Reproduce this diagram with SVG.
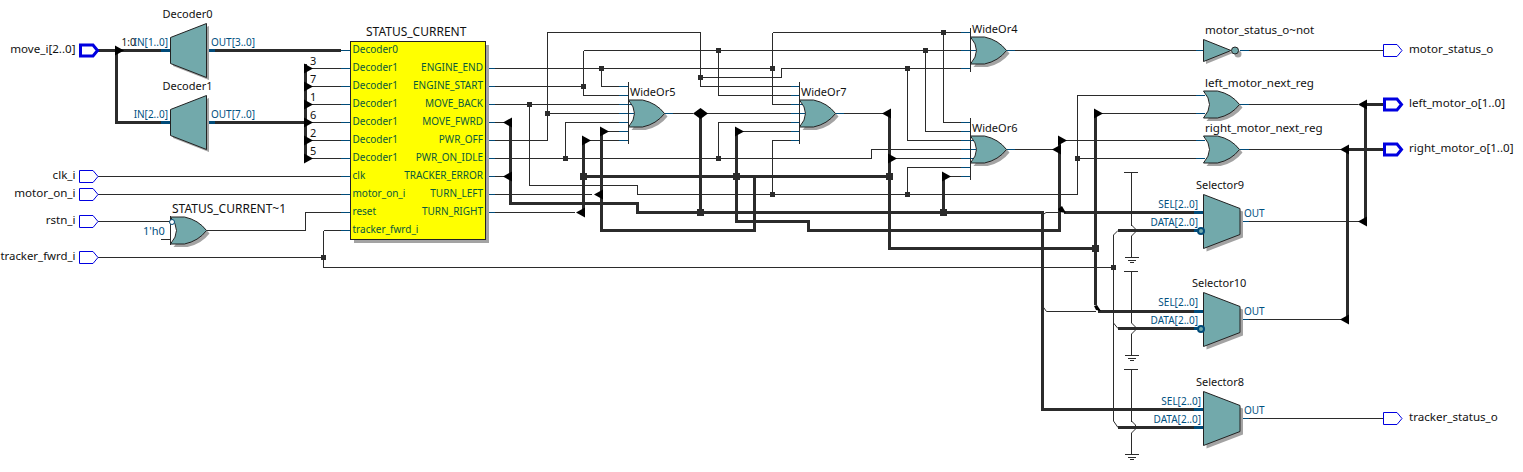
<svg xmlns="http://www.w3.org/2000/svg" width="1523" height="472" viewBox="0 0 1523 472">
<style>
text{font-family:"Noto Sans","DejaVu Sans",sans-serif;font-size:11px;fill:#111}
.n{font-size:11.6px}
.c{font-size:12px}
.l{fill:#00507f;font-size:10px}
.e{text-anchor:end}
.k{fill:#0a5a3c;font-size:10px}
.t,.b,.s,.sb{fill:none;stroke-linejoin:miter}
.t{stroke:#2b2b2b;stroke-width:1;shape-rendering:crispEdges}
.b{stroke:#2b2b2b;stroke-width:3;shape-rendering:crispEdges}
.s{stroke:#004a78;stroke-width:1;shape-rendering:crispEdges}
.sb{stroke:#004a78;stroke-width:3;shape-rendering:crispEdges}
.d{stroke:#2b2b2b;stroke-width:1;fill:none}
.g{fill:#72a9ab;stroke:#222;stroke-width:1}
.sh{fill:#a3a3a3}
.p{fill:#fff;stroke:#0000e0;stroke-width:1}
.pb{fill:#fff;stroke:#0000e0;stroke-width:3}
.a{fill:#000}
.j{fill:#2b2b2b}
</style>
<defs>
<polygon id="ar" class="a" points="0,-5 9,0 0,5"/>
<polygon id="al" class="a" points="0,-5 -9,0 0,5"/>
<rect id="jn" class="j" x="-2.5" y="-2.5" width="5" height="5"/>
<rect id="jb" class="j" x="-3.5" y="-3.5" width="7" height="7"/>
<path id="orsh" class="sh" d="M0 0H14Q28 3 36 13.500Q28 24 14 27H0Q6 20 6 13.500Q6 7 0 0Z"/>
<path id="orb" class="g" d="M0 0H14Q28 3 36 13.500Q28 24 14 27H0Q6 20 6 13.500Q6 7 0 0Z"/>
<path id="gnd" class="t" d="M-7 0H7M-4 2.500H4M-2 5H2"/>
</defs>
<g id="connectors">
<path class="b" d="M98 50.500H341M116.500 50.500V122.500H161M215 50.500H341M215 122.500H305.500M305.500 64V162"/>
<path class="t" d="M98 176.500H350M98 194.500H350M98 221.500H170M98 257.500H323.500M323.500 230.500V267.500H1113.500M323.500 230.500H350M206 230.500H305.500V212.500H350M306 68.500H350M306 86.500H350M306 104.500H350M306 122.500H350M306 140.500H350M306 158.500H350M161 239.500H170"/>
<path class="t" d="M486 68.500H772.500M486 86.500H583.500M486 104.500H628M486 122.500H505M486 140.500H547.500V32.500H700.500V86.500H800M486 158.500H871.500V149.500H970M486 176.500H505M486 194.500H592M486 212.500H575"/>
<path class="t" d="M547.500 113.500H628M601.500 68.500V86.500H628M583.500 50.500H970M583.500 50.500V95.500H628M718.500 50.500V95.500H800M700.500 77.500H781.500V68.500H970M772.500 32.500H970M772.500 32.500V104.500H800M529.500 104.500V185.500H637.500V194.500H1077.500V95.500H1205M565.500 158.500V122.500H628M718.500 158.500V122.500H800M664 113.500H693M707 113.500H800M583.500 140.500H628M601.500 131.500H628M736.500 131.500H800"/>
<path class="t" d="M943.500 32.500V122.500H970M925.500 50.500V131.500H970M907.500 68.500V140.500H970M907.500 194.500V167.500H970M889.500 158.500H970M943.500 176.500H970M772.500 194.500V140.500H800M835 113.500H883M1006 149.500H1054M1006 50.500H1205M1240 50.500H1383M1059.500 140.500H1205M1077.500 158.500H1205M1095.500 113.500H1205M1240 104.500H1358M1240 149.500H1342M1240 221.500H1360M1240 319.500H1342M1240 418.500H1383"/>
<path class="b" d="M510.500 122V203.500H637.500V212.500H1042.500V409.500H1204M583.500 140V212M583.500 176.500H889.500M601.500 131V230.500H754.500V176.500M700.500 113.500V212.500M736.500 131V221.500H808.500V230.500H1059.500V140M889.500 113V248.500H1095.500V305M943.500 176V212.500M1095.500 113V248M1064 212.500H1204M1098 311.500H1204M1118 230.500H1196M1118 328.500H1196M1118 427.500H1204M1347.500 149.500V322M1365.500 104V225M1365 104.500H1383M1347 149.500H1383"/>
<path class="d" d="M1042.500 215L1046 212.500H1060M1042.500 306L1046.500 311.500H1096M1113.500 235V421L1118 427.500M1113.500 235L1118 230.500M1113.500 323L1118 328.500"/>
<path class="t" d="M1124 172.500H1138M1131.500 172.500V226M1124 271.500H1138M1131.500 271.500V323M1124 369.500H1138M1131.500 369.500V422"/>
<path class="d" d="M1131.500 225L1135.500 229V232L1131.500 236M1131.500 323L1135.500 327V330L1131.500 334M1131.500 421L1135.500 425V429L1131.500 433"/>
<path class="t" d="M1131.500 236V258M1131.500 334V356M1131.500 433V455"/>
<use href="#gnd" x="1131.500" y="257.500"/><use href="#gnd" x="1131.500" y="355.500"/><use href="#gnd" x="1131.500" y="454.500"/>
<path class="sb" d="M161 50.500H170M206 50.500H215M161 122.500H170M206 122.500H215M1194 212.500H1204M1194 230.500H1198M1194 311.500H1204M1194 328.500H1198M1194 409.500H1204M1194 427.500H1204"/>
<path class="s" d="M341 50.500H350M341 68.500H350M341 86.500H350M341 104.500H350M341 122.500H350M341 140.500H350M341 158.500H350M341 176.500H350M341 194.500H350M341 212.500H350M341 230.500H350M486 68.500H495M486 86.500H495M486 104.500H495M486 122.500H495M486 140.500H495M486 158.500H495M486 176.500H495M486 194.500H495M486 212.500H495"/>
<path class="s" d="M619 86.500H628M619 95.500H628M619 104.500H634M619 113.500H634M619 122.500H628M619 131.500H628M619 140.500H628M791 86.500H800M791 95.500H800M791 104.500H805M791 113.500H805M791 122.500H800M791 131.500H800M791 140.500H800M961 32.500H970M961 50.500H976M961 68.500H970M961 122.500H970M961 131.500H970M961 140.500H976M961 149.500H976M961 158.500H976M961 167.500H970M961 176.500H970M664 113.500H673M835 113.500H844M1006 50.500H1015M1006 149.500H1015M1196 95.500H1205M1196 113.500H1205M1196 140.500H1205M1196 158.500H1205M1240 104.500H1249M1240 149.500H1249M1240 50.500H1249M1240 221.500H1249M1240 319.500H1249M1240 418.500H1249M1196 50.500H1205"/>
<path class="t" d="M628.500 82V143.500M799.500 82V143.500M970.500 28V72M970.500 118V180M170.500 216V245"/>
<use href="#ar" x="115" y="50.500"/>
<use href="#ar" x="304" y="68.500"/><use href="#ar" x="304" y="86.500"/><use href="#ar" x="304" y="104.500"/><use href="#ar" x="304" y="122.500"/><use href="#ar" x="304" y="140.500"/><use href="#ar" x="304" y="158.500"/>
<use href="#al" x="512" y="122.500"/><use href="#al" x="512" y="176.500"/><use href="#al" x="603" y="194.500"/><use href="#al" x="585" y="212.500"/>
<use href="#ar" x="582" y="140.500"/><use href="#ar" x="600" y="131.500"/><use href="#ar" x="735" y="131.500"/><use href="#al" x="891" y="113.500"/><use href="#ar" x="888" y="158.500"/><use href="#ar" x="942" y="176.500"/><use href="#al" x="1061" y="149.500"/><use href="#ar" x="1058" y="140.500"/><use href="#ar" x="1094" y="113.500"/>
<use href="#al" x="1367" y="104.500"/><use href="#al" x="1349" y="149.500"/><use href="#al" x="1367" y="221.500"/><use href="#al" x="1349" y="319.500"/>
<polygon class="a" points="693,113.500 700.500,108 708,113.500 700.500,119"/>
<polygon class="a" points="1058,209 1062,206 1066,213 1060,212"/>
<polygon class="a" points="1094,306 1097,305 1101,311 1096,310"/>
<use href="#jn" x="601.500" y="68.500"/><use href="#jn" x="583.500" y="86.500"/><use href="#jn" x="718.500" y="50.500"/><use href="#jn" x="772.500" y="68.500"/><use href="#jn" x="700.500" y="77.500"/><use href="#jn" x="529.500" y="104.500"/><use href="#jn" x="547.500" y="113.500"/><use href="#jn" x="565.500" y="158.500"/><use href="#jn" x="718.500" y="158.500"/><use href="#jn" x="772.500" y="194.500"/><use href="#jn" x="907.500" y="194.500"/><use href="#jn" x="943.500" y="32.500"/><use href="#jn" x="925.500" y="50.500"/><use href="#jn" x="907.500" y="68.500"/><use href="#jn" x="1077.500" y="158.500"/><use href="#jn" x="323.500" y="257.500"/><use href="#jn" x="1113.500" y="267.500"/>
<use href="#jb" x="583.500" y="176.500"/><use href="#jb" x="736.500" y="176.500"/><use href="#jb" x="889.500" y="176.500"/><use href="#jb" x="700.500" y="212.500"/><use href="#jb" x="943.500" y="212.500"/><use href="#jb" x="1095.500" y="248.500"/>
</g>
<g id="move_i"><polygon class="pb" points="80.500,45 93,45 97.500,50.500 93,56 80.500,56"/><text class="n e" x="75.500" y="53">move_i[2..0]</text></g>
<g id="clk_i"><polygon class="p" points="79.500,170.500 93,170.500 98,176.500 93,182.500 79.500,182.500"/><text class="n e" x="75.500" y="179">clk_i</text></g>
<g id="motor_on_i"><polygon class="p" points="79.500,188.500 93,188.500 98,194.500 93,200.500 79.500,200.500"/><text class="n e" x="75.500" y="197">motor_on_i</text></g>
<g id="rstn_i"><polygon class="p" points="79.500,215.500 93,215.500 98,221.500 93,227.500 79.500,227.500"/><text class="n e" x="75.500" y="224">rstn_i</text></g>
<g id="tracker_fwrd_i"><polygon class="p" points="79.500,251.500 93,251.500 98,257.500 93,263.500 79.500,263.500"/><text class="e" x="75.500" y="260" style="font-size:11.4px">tracker_fwrd_i</text></g>
<g id="Decoder0"><polygon class="sh" points="173,40 209,26 209,80 173,66"/><polygon class="g" points="170.500,37.500 206.500,23.500 206.500,77.500 170.500,63.500"/><text x="162.500" y="18">Decoder0</text><text x="121.500" y="46" class="l" style="fill:#111">1:0</text><text class="l e" x="168" y="46">IN[1..0]</text><text class="l" x="211" y="46">OUT[3..0]</text></g>
<g id="Decoder1"><polygon class="sh" points="173,112 209,98 209,152 173,138"/><polygon class="g" points="170.500,109.500 206.500,95.500 206.500,149.500 170.500,135.500"/><text x="162.500" y="90">Decoder1</text><text class="l e" x="168" y="118">IN[2..0]</text><text class="l" x="211" y="118">OUT[7..0]</text></g>
<g id="bus_labels"><text x="310" y="64.500">3</text><text x="310" y="82.500">7</text><text x="310" y="100.500">1</text><text x="310" y="118.500">6</text><text x="310" y="136.500">2</text><text x="310" y="154.500">5</text></g>
<g id="STATUS_CURRENT"><rect class="sh" x="354" y="45" width="135" height="198"/><rect x="350.500" y="41.500" width="135" height="198" fill="#ff0" stroke="#222"/><text class="c" x="366" y="36">STATUS_CURRENT</text>
<text class="k" x="352.500" y="52.500">Decoder0</text><text class="k" x="352.500" y="70.500">Decoder1</text><text class="k" x="352.500" y="88.500">Decoder1</text><text class="k" x="352.500" y="106.500">Decoder1</text><text class="k" x="352.500" y="124.500">Decoder1</text><text class="k" x="352.500" y="142.500">Decoder1</text><text class="k" x="352.500" y="160.500">Decoder1</text><text class="k" x="352.500" y="178.500">clk</text><text class="k" x="352.500" y="196.500">motor_on_i</text><text class="k" x="352.500" y="214.500">reset</text><text class="k" x="352.500" y="232.500">tracker_fwrd_i</text>
<text class="k e" x="483" y="70.500">ENGINE_END</text><text class="k e" x="483" y="88.500">ENGINE_START</text><text class="k e" x="483" y="106.500">MOVE_BACK</text><text class="k e" x="483" y="124.500">MOVE_FWRD</text><text class="k e" x="483" y="142.500">PWR_OFF</text><text class="k e" x="483" y="160.500">PWR_ON_IDLE</text><text class="k e" x="483" y="178.500">TRACKER_ERROR</text><text class="k e" x="483" y="196.500">TURN_LEFT</text><text class="k e" x="483" y="214.500">TURN_RIGHT</text></g>
<g id="STATUS_CURRENT_1"><use href="#orsh" x="173.500" y="220"/><use href="#orb" x="170.500" y="217"/><circle cx="172" cy="222" r="2.500" fill="#fff" stroke="#004a78"/><text class="c" x="172" y="213">STATUS_CURRENT~1</text><text class="l" x="143" y="235" style="font-size:11px">1'h0</text></g>
<g id="WideOr5"><use href="#orsh" x="631.500" y="103"/><use href="#orb" x="628.500" y="100"/><text x="630" y="96">WideOr5</text></g>
<g id="WideOr7"><use href="#orsh" x="802.500" y="103"/><use href="#orb" x="799.500" y="100"/><text x="801" y="96">WideOr7</text></g>
<g id="WideOr4"><use href="#orsh" x="973.500" y="40"/><use href="#orb" x="970.500" y="37"/><text x="972" y="33">WideOr4</text></g>
<g id="WideOr6"><use href="#orsh" x="973.500" y="139"/><use href="#orb" x="970.500" y="136"/><text x="972" y="132">WideOr6</text></g>
<g id="motor_status_not"><polygon class="sh" points="1206,42 1233,53 1206,64"/><circle class="sh" cx="1238" cy="54" r="3.500"/><polygon class="g" points="1203.500,39.500 1231,50.500 1203.500,61.500"/><circle class="g" cx="1235" cy="50.500" r="3.500"/><text class="n" x="1205" y="34">motor_status_o~not</text></g>
<g id="left_motor_next_reg"><use href="#orsh" x="1206.500" y="94"/><use href="#orb" x="1203.500" y="91"/><text class="n" x="1205" y="87">left_motor_next_reg</text></g>
<g id="right_motor_next_reg"><use href="#orsh" x="1206.500" y="139"/><use href="#orb" x="1203.500" y="136"/><text class="n" x="1205" y="132">right_motor_next_reg</text></g>
<g id="Selector9"><polygon class="sh" points="1206.500,197.500 1243,211.500 1243,237.500 1206.500,251.500"/><polygon class="g" points="1203.500,194.500 1240,208.500 1240,234.500 1203.500,248.500"/><circle cx="1201" cy="231" r="3" fill="#72a9ab" stroke="#004a78" stroke-width="2"/><text x="1196" y="189">Selector9</text><text class="l e" x="1198" y="208">SEL[2..0]</text><text class="l e" x="1198" y="226">DATA[2..0]</text><text class="l" x="1244" y="217">OUT</text></g>
<g id="Selector10"><polygon class="sh" points="1206.500,295.500 1243,309.500 1243,335.500 1206.500,349.500"/><polygon class="g" points="1203.500,292.500 1240,306.500 1240,332.500 1203.500,346.500"/><circle cx="1201" cy="329" r="3" fill="#72a9ab" stroke="#004a78" stroke-width="2"/><text x="1192" y="287">Selector10</text><text class="l e" x="1198" y="306">SEL[2..0]</text><text class="l e" x="1198" y="324">DATA[2..0]</text><text class="l" x="1244" y="315">OUT</text></g>
<g id="Selector8"><polygon class="sh" points="1206.500,394.500 1243,408.500 1243,434.500 1206.500,448.500"/><polygon class="g" points="1203.500,391.500 1240,405.500 1240,431.500 1203.500,445.500"/><text x="1196" y="386">Selector8</text><text class="l e" x="1201" y="405">SEL[2..0]</text><text class="l e" x="1201" y="423">DATA[2..0]</text><text class="l" x="1244" y="414">OUT</text></g>
<g id="motor_status_o"><polygon class="p" points="1383.500,44.500 1397,44.500 1402,50.500 1397,56.500 1383.500,56.500"/><text class="n" x="1409" y="53">motor_status_o</text></g>
<g id="left_motor_o"><polygon class="pb" points="1384.500,99 1397,99 1401.500,104.500 1397,110 1384.500,110"/><text class="n" x="1409" y="107">left_motor_o[1..0]</text></g>
<g id="right_motor_o"><polygon class="pb" points="1384.500,144 1397,144 1401.500,149.500 1397,155 1384.500,155"/><text class="n" x="1409" y="152">right_motor_o[1..0]</text></g>
<g id="tracker_status_o"><polygon class="p" points="1383.500,412.500 1397,412.500 1402,418.500 1397,424.500 1383.500,424.500"/><text class="n" x="1409" y="421">tracker_status_o</text></g>
</svg>
